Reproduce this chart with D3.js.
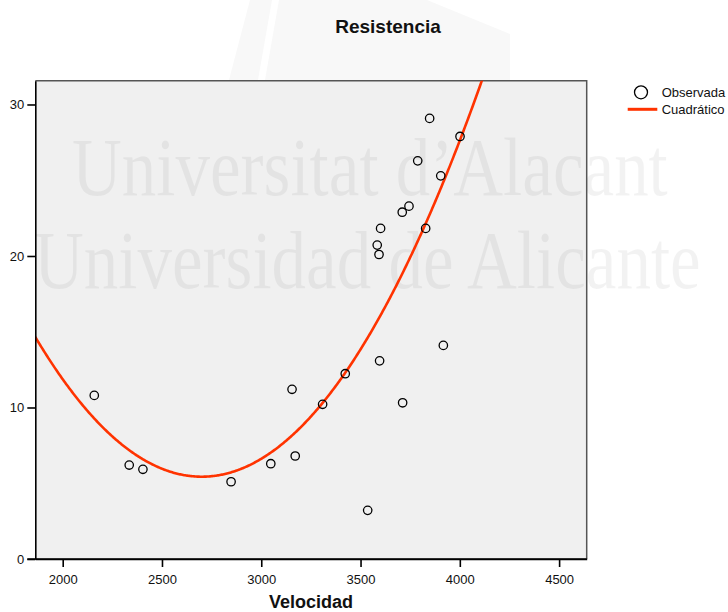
<!DOCTYPE html>
<html>
<head>
<meta charset="utf-8">
<script src="https://cdn.jsdelivr.net/npm/d3@7/dist/d3.min.js"></script>
<style>
  body { margin: 0; background: #ffffff; }
  svg { display: block; font-family: "Liberation Sans", Arial, sans-serif; }
</style>
</head>
<body>
<svg id="chart" width="728" height="612"></svg>
<script>
// Observed values
const velocidad   = [2159, 2335, 2404, 2848, 3048, 3155, 3171, 3309, 3423, 3536, 3596, 3584,
                     3593, 3601, 3712, 3710, 3744, 3788, 3828, 3848, 3904, 3917, 4001];
const resistencia = [10.80, 6.20, 5.92, 5.10, 6.29, 11.20, 6.80, 10.21, 12.23, 3.21, 13.08, 20.72,
                     20.10, 21.82, 10.31, 22.89, 23.29, 26.28, 21.82, 29.08, 25.29, 14.10, 27.89];

// Quadratic model: b0 + b1*x + b2*x^2
const quadCoef = [101.15, -0.070902, 0.00001313];

const xTicks = [2000, 2500, 3000, 3500, 4000, 4500];
const yTicks = [0, 10, 20, 30];
const xDomain = [1862, 4639];
const yDomain = [0, 31.57];

const chartTitle = "Resistencia";
const xLabel = "Velocidad";
const legendLabels = ["Observada", "Cuadrático"];
const watermarkLines = ["Universitat d\u2019Alacant", "Universidad de Alicante"];

// Layout
const plot = { left: 35.3, right: 586.7, top: 80.7, bottom: 559 };
const curveColor = "#ff3300";

const svg = d3.select("#chart");

const x = d3.scaleLinear().domain(xDomain).range([plot.left, plot.right]);
const y = d3.scaleLinear().domain(yDomain).range([plot.bottom, plot.top]);

// faint logo shape behind the title
const logo = svg.append("g").attr("fill", "#f8f8f8");
logo.append("path").attr("d", "M229,80 L250,0 L427,0 L510,34 L510,80 Z");
logo.append("path").attr("d", "M258,80 L272,0 L279,0 L265,80 Z").attr("fill", "#ffffff");

// plot background
svg.append("rect")
  .attr("x", plot.left).attr("y", plot.top)
  .attr("width", plot.right - plot.left).attr("height", plot.bottom - plot.top)
  .attr("fill", "#f0f0f0");

// watermark text
const wm = svg.append("g")
  .attr("font-family", "'Liberation Serif', 'DejaVu Serif', serif")
  .attr("font-size", 69)
  .attr("fill", "#000")
  .attr("fill-opacity", 0.05);
const wmPos = [[72, 195], [34, 288]];
watermarkLines.forEach((t, i) => {
  wm.append("text")
    .attr("transform", `translate(${wmPos[i][0]},${wmPos[i][1]}) scale(1,1.2)`)
    .text(t);
});

// frame top/right
svg.append("path")
  .attr("d", `M${plot.left},${plot.top}H${plot.right}V${plot.bottom}`)
  .attr("fill", "none").attr("stroke", "#555").attr("stroke-width", 1.5);

// clip
svg.append("clipPath").attr("id", "plotClip")
  .append("rect")
  .attr("x", plot.left).attr("y", plot.top)
  .attr("width", plot.right - plot.left).attr("height", plot.bottom - plot.top);

// quadratic curve
const quad = v => quadCoef[0] + quadCoef[1] * v + quadCoef[2] * v * v;
const curveX = d3.range(xDomain[0], xDomain[1] + 1, 5);
svg.append("path")
  .attr("clip-path", "url(#plotClip)")
  .datum(curveX)
  .attr("fill", "none")
  .attr("stroke", curveColor)
  .attr("stroke-width", 2.6)
  .attr("d", d3.line().x(d => x(d)).y(d => y(quad(d))));

// observed points
svg.append("g")
  .selectAll("circle")
  .data(velocidad.map((v, i) => [v, resistencia[i]]))
  .join("circle")
  .attr("cx", d => x(d[0]))
  .attr("cy", d => y(d[1]))
  .attr("r", 4.2)
  .attr("fill", "none")
  .attr("stroke", "#000")
  .attr("stroke-width", 1.3);

// axes
const xAxis = svg.append("g")
  .attr("transform", `translate(0,${plot.bottom})`)
  .call(d3.axisBottom(x).tickValues(xTicks).tickFormat(d3.format("d")).tickSize(8).tickPadding(8).tickSizeOuter(0));
const yAxis = svg.append("g")
  .attr("transform", `translate(${plot.left},0)`)
  .call(d3.axisLeft(y).tickValues(yTicks).tickFormat(d3.format("d")).tickSize(8).tickPadding(3).tickSizeOuter(0));

[xAxis, yAxis].forEach(a => {
  a.select(".domain").attr("stroke", "#000").attr("stroke-width", 1.6);
  a.selectAll(".tick line").attr("stroke", "#000").attr("stroke-width", 1.6);
  a.selectAll(".tick text").attr("fill", "#111").attr("font-size", 13)
    .attr("font-family", "'Liberation Sans', Arial, sans-serif");
});
// extend bottom axis line to meet the 0 tick
svg.append("line")
  .attr("x1", plot.left - 8).attr("x2", plot.right)
  .attr("y1", plot.bottom).attr("y2", plot.bottom)
  .attr("stroke", "#000").attr("stroke-width", 1.6);

// title and axis label
svg.append("text")
  .attr("x", 388).attr("y", 33)
  .attr("text-anchor", "middle")
  .attr("font-weight", "bold").attr("font-size", 19)
  .attr("fill", "#111")
  .text(chartTitle);
svg.append("text")
  .attr("x", (plot.left + plot.right) / 2).attr("y", 608)
  .attr("text-anchor", "middle")
  .attr("font-weight", "bold").attr("font-size", 18)
  .attr("fill", "#111")
  .text(xLabel);

// legend
const lg = svg.append("g").attr("font-size", 13).attr("fill", "#111");
lg.append("circle").attr("cx", 641).attr("cy", 92.3).attr("r", 6.5)
  .attr("fill", "none").attr("stroke", "#000").attr("stroke-width", 1.3);
lg.append("text").attr("x", 661.7).attr("y", 96.8).text(legendLabels[0]);
lg.append("line").attr("x1", 627.7).attr("x2", 657.3).attr("y1", 109.3).attr("y2", 109.3)
  .attr("stroke", curveColor).attr("stroke-width", 3);
lg.append("text").attr("x", 661.7).attr("y", 113.8).text(legendLabels[1]);
</script>
</body>
</html>
